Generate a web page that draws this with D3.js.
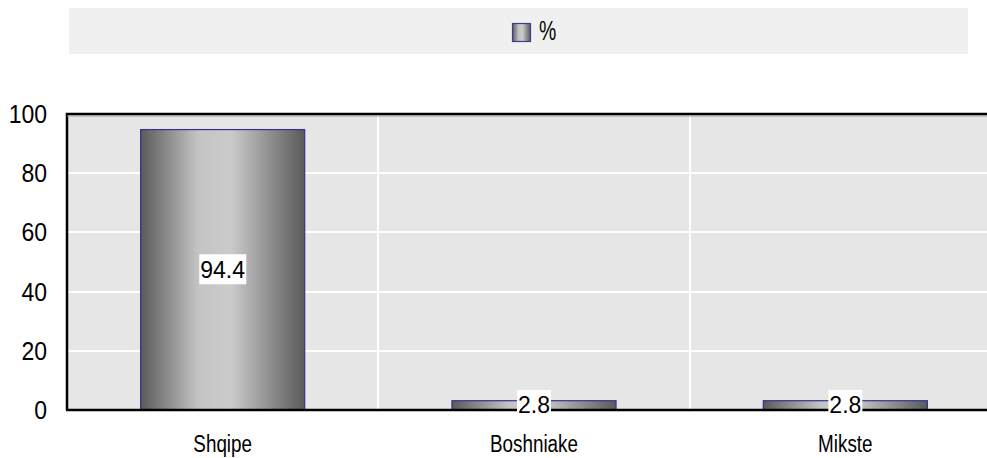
<!DOCTYPE html>
<html><head><meta charset="utf-8">
<script src="https://cdn.jsdelivr.net/npm/d3@7"></script>
<style>body{margin:0;background:#fff;overflow:hidden}svg{display:block}</style>
</head><body>
<script>
const categories = ["Shqipe", "Boshniake", "Mikste"];
const values = [94.4, 2.8, 2.8];
const seriesName = "%";
const yTicks = [0, 20, 40, 60, 80, 100];

const W = 987, H = 458;
const plot = {left: 67, top: 114, right: 1001, bottom: 410};
const FONT = "Liberation Sans, Arial, sans-serif";
const svg = d3.select("body").append("svg").attr("width", W).attr("height", H);

const defs = svg.append("defs");
const grad = defs.append("linearGradient").attr("id", "barGrad").attr("x1", "0%").attr("x2", "100%").attr("y1", "0%").attr("y2", "0%");
[[0, "#5a5a5a"], [0.35, "#c4c4c4"], [0.55, "#cbcbcb"], [1, "#5a5a5a"]].forEach(([o, c]) =>
  grad.append("stop").attr("offset", o).attr("stop-color", c));

function narrowText(parent, px, py, str, size, sx, anchor) {
  const gg = parent.append("g").attr("transform", `translate(${px},${py}) scale(${sx},1)`);
  gg.append("text").attr("text-anchor", anchor).attr("font-family", FONT).attr("font-size", size)
    .attr("fill", "#000").text(str);
  return gg;
}

// legend
svg.append("rect").attr("x", 69).attr("y", 8).attr("width", 899).attr("height", 46).attr("fill", "#f0f0f0");
svg.append("rect").attr("x", 512.5).attr("y", 23.5).attr("width", 18).attr("height", 18)
  .attr("fill", "url(#barGrad)").attr("stroke", "#3c3c96").attr("stroke-width", 1.2);
narrowText(svg, 539, 40, seriesName, 27, 0.72, "start");

const x = d3.scaleBand().domain(categories).range([plot.left, plot.right]).paddingInner(0).paddingOuter(0);
const y = d3.scaleLinear().domain([0, 100]).range([plot.bottom, plot.top]);

svg.append("rect").attr("x", plot.left).attr("y", plot.top).attr("width", plot.right - plot.left)
  .attr("height", plot.bottom - plot.top).attr("fill", "#e6e6e6");

// grid
const g = svg.append("g");
g.selectAll("line.h").data(yTicks.filter(t => t > 0 && t < 100)).join("line")
  .attr("x1", plot.left).attr("x2", plot.right).attr("y1", d => Math.round(y(d))).attr("y2", d => Math.round(y(d)))
  .attr("stroke", "#fff").attr("stroke-width", 2);
g.selectAll("line.v").data(categories.slice(1)).join("line")
  .attr("x1", d => Math.round(x(d))).attr("x2", d => Math.round(x(d))).attr("y1", plot.top).attr("y2", plot.bottom)
  .attr("stroke", "#fff").attr("stroke-width", 2);

// bars
const bw = x.bandwidth() * 0.527;
svg.selectAll("rect.bar").data(values).join("rect").attr("class", "bar")
  .attr("x", (d, i) => x(categories[i]) + (x.bandwidth() - bw) / 2)
  .attr("y", d => y(d) - 1).attr("width", bw).attr("height", d => plot.bottom - y(d) + 1)
  .attr("fill", "url(#barGrad)").attr("stroke", "#34348c").attr("stroke-width", 1.2);

// border
svg.append("path").attr("d", `M${plot.left},${plot.bottom}V${plot.top}H${plot.right}`)
  .attr("fill", "none").attr("stroke", "#000").attr("stroke-width", 2.5);
svg.append("line").attr("x1", plot.left).attr("x2", plot.right).attr("y1", plot.top + 2).attr("y2", plot.top + 2)
  .attr("stroke", "#999").attr("stroke-width", 1);
svg.append("line").attr("x1", plot.left - 1).attr("x2", plot.right).attr("y1", plot.bottom).attr("y2", plot.bottom)
  .attr("stroke", "#000").attr("stroke-width", 2.5);

// y axis labels
yTicks.forEach(t => narrowText(svg, 47, y(t) + 9, String(t), 25, 0.92, "end"));

// x axis labels
categories.forEach(c => narrowText(svg, x(c) + x.bandwidth() / 2, 452, c, 23, 0.82, "middle"));

// data labels
const lab = svg.selectAll("g.lab").data(values).join("g").attr("class", "lab")
  .attr("transform", (d, i) => `translate(${x(categories[i]) + x.bandwidth() / 2},${(y(d) + plot.bottom) / 2 - 1})`);
lab.each(function(d) {
  const gg = d3.select(this);
  const t = gg.append("text").attr("text-anchor", "middle").attr("dy", "0.36em")
    .attr("font-family", FONT).attr("font-size", 23).attr("fill", "#000").text(d);
  const bb = t.node().getBBox();
  gg.insert("rect", "text").attr("x", bb.x - 1).attr("y", -15).attr("width", bb.width + 2).attr("height", 30).attr("fill", "#fff");
});
</script>
</body></html>
